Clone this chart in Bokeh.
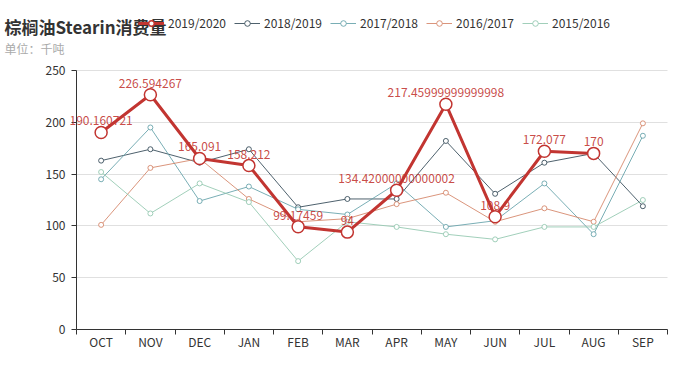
from bokeh.plotting import figure
from bokeh.models import (ColumnDataSource, Range1d, FixedTicker, LabelSet, Label,
                          Legend, LegendItem, Grid)
from bokeh.core.properties import value
from bokeh.embed import file_html
from bokeh.resources import INLINE

# ---- data ----
months = ["OCT", "NOV", "DEC", "JAN", "FEB", "MAR", "APR", "MAY", "JUN", "JUL", "AUG", "SEP"]
s_2019_2020 = [190.160721, 226.594267, 165.091, 158.212, 99.17459, 94,
               134.42000000000002, 217.45999999999998, 108.9, 172.077, 170, None]
s_2018_2019 = [163, 174, 161, 174, 118, 126, 126, 182, 131, 161, 170, 119]
s_2017_2018 = [145, 195, 124, 138, 116, 111, 141, 99, 105, 141, 92, 187]
s_2016_2017 = [101, 156, 165, 126, 104, 107, 121, 132, 104, 117, 104, 199]
s_2015_2016 = [152, 112, 141, 123, 66, 104, 99, 92, 87, 99, 99, 125]
y_ticks = [0, 50, 100, 150, 200, 250]
y_max = 250

title_text = "棕榈油Stearin消费量"
subtitle_text = "单位：千吨"

FONT = "Noto Sans CJK SC"
W, H = 680, 360
# plot-area position inside the figure (pixels)
PL, PR, PT, PB = 76, 667, 70, 329

n = len(months)
px_per_x = (PR - PL) / n
px_per_y = (PB - PT) / y_max

RED = "#c23531"
series = [
    ("2018/2019", s_2018_2019, "#2f4554"),
    ("2017/2018", s_2017_2018, "#61a0a8"),
    ("2016/2017", s_2016_2017, "#d48265"),
    ("2015/2016", s_2015_2016, "#91c7ae"),
]

# the frame covers the whole canvas; axes are placed at fixed data locations
p = figure(width=W, height=H, output_backend="svg", toolbar_location=None,
           x_range=Range1d(-PL / px_per_x, n + (W - PR) / px_per_x),
           y_range=Range1d(-(H - PB) / px_per_y, y_max + PT / px_per_y),
           min_border=0, title=None)
p.outline_line_color = None

xs = [i + 0.5 for i in range(n)]


def nan(v):
    return float("nan") if v is None else v


rends = {}
for name, vals, col in series:
    src = ColumnDataSource(dict(x=xs, y=[nan(v) for v in vals]))
    l = p.line("x", "y", source=src, line_color=col, line_width=1, line_alpha=0.85)
    s = p.scatter("x", "y", source=src, marker="circle", size=5, line_color=col,
                  line_alpha=0.85, line_width=1, fill_color="white")
    rends[name] = [l, s]

src_r = ColumnDataSource(dict(x=xs, y=[nan(v) for v in s_2019_2020]))
lr = p.line("x", "y", source=src_r, line_color=RED, line_width=3)
sr = p.scatter("x", "y", source=src_r, marker="circle", size=12, line_color=RED,
               line_width=1.5, fill_color="white")
rends["2019/2020"] = [lr, sr]

lab_x = [x for x, v in zip(xs, s_2019_2020) if v is not None]
lab_y = [v for v in s_2019_2020 if v is not None]
lab_t = [str(v) for v in lab_y]
lsrc = ColumnDataSource(dict(x=lab_x, y=lab_y, t=lab_t))
p.add_layout(LabelSet(x="x", y="y", text="t", source=lsrc, text_align="center",
                      text_baseline="bottom", y_offset=7, text_font=value(FONT),
                      text_font_size="12px", text_color=RED, text_alpha=0.9))

# grid
p.xgrid.visible = False
p.ygrid.ticker = FixedTicker(ticks=y_ticks)
p.ygrid.grid_line_color = "#e0e0e0"
p.ygrid.bounds = (0, y_max)
if "cross_bounds" in Grid.properties():
    p.ygrid.cross_bounds = (0, n)

# x axis at y = 0
xa = p.xaxis[0]
xa.fixed_location = 0
xa.bounds = (0, n)
xa.ticker = FixedTicker(ticks=xs, minor_ticks=list(range(n + 1)))
xa.major_label_overrides = {x: m for x, m in zip(xs, months)}
xa.major_tick_line_color = None
xa.major_tick_in = 0
xa.major_tick_out = 0
xa.minor_tick_in = 0
xa.minor_tick_out = 5
xa.minor_tick_line_color = "#333333"
xa.axis_line_color = "#333333"
xa.major_label_text_font = FONT
xa.major_label_text_font_size = "12px"
xa.major_label_text_color = "#333333"
xa.major_label_standoff = -2

# y axis at x = 0
ya = p.yaxis[0]
ya.fixed_location = 0
ya.bounds = (0, y_max)
ya.ticker = FixedTicker(ticks=y_ticks)
ya.minor_tick_line_color = None
ya.major_tick_in = 0
ya.major_tick_out = 5
ya.major_tick_line_color = "#333333"
ya.axis_line_color = "#333333"
ya.major_label_text_font = FONT
ya.major_label_text_font_size = "12px"
ya.major_label_text_color = "#333333"
ya.major_label_standoff = 6

# legend in the top row
order = ["2019/2020", "2018/2019", "2017/2018", "2016/2017", "2015/2016"]
legend = Legend(items=[LegendItem(label=nm, renderers=rends[nm]) for nm in order],
                orientation="horizontal", location=(138, H - 31),
                glyph_width=26, glyph_height=14, label_standoff=4, spacing=8,
                padding=0, margin=0, border_line_color=None,
                background_fill_alpha=0, label_text_font=FONT,
                label_text_font_size="12px", label_text_color="#333333",
                label_height=14)
p.add_layout(legend)

p.add_layout(Label(x=4, y=H - 26, x_units="screen", y_units="screen",
                   text=title_text, text_font=FONT, text_font_size="17px",
                   text_font_style="bold", text_color="#333333",
                   text_baseline="middle", background_fill_color="white",
                   level="overlay"))
p.add_layout(Label(x=4, y=H - 48, x_units="screen", y_units="screen",
                   text=subtitle_text, text_font=FONT, text_font_size="12px",
                   text_color="#aaaaaa", text_baseline="middle"))

open("out.html", "w").write(file_html(p, INLINE))
